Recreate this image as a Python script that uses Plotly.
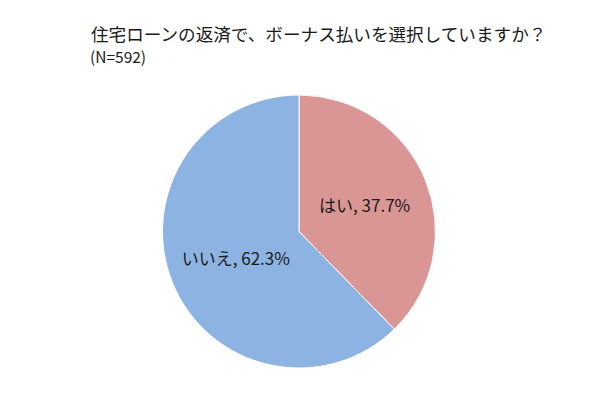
import plotly.graph_objects as go

labels = ["はい", "いいえ"]
values = [37.7, 62.3]
colors = ["#D99694", "#8DB3E2"]
title_text = "住宅ローンの返済で、ボーナス払いを選択していますか？"
subtitle_text = "(N=592)"

W, H = 600, 403
OFF = 8  # page body margin offset
FONT = "Noto Sans CJK JP"

cx, cy, r = 299 - OFF, 231.5 - OFF, 136.5

fig = go.Figure(go.Pie(
    labels=labels,
    values=values,
    sort=False,
    direction="clockwise",
    rotation=0,
    marker=dict(colors=colors, line=dict(color="white", width=1)),
    texttemplate="%{label}, %{value:.1f}%",
    textposition="inside",
    insidetextorientation="horizontal",
    textfont=dict(family=FONT, size=17, color="#1a1a1a"),
    hoverinfo="label+percent",
    domain=dict(x=[(cx - r) / W, (cx + r) / W], y=[1 - (cy + r) / H, 1 - (cy - r) / H]),
))

fig.update_layout(
    width=W, height=H,
    margin=dict(l=0, r=0, t=0, b=0),
    paper_bgcolor="white",
    plot_bgcolor="white",
    showlegend=False,
    font=dict(family=FONT),
    annotations=[
        dict(text=title_text, x=(91 - OFF - 2) / W, y=1 - (33 - OFF) / H, xref="paper", yref="paper",
             xanchor="left", yanchor="middle", showarrow=False,
             font=dict(family=FONT, size=17.6, color="#1a1a1a")),
        dict(text=subtitle_text, x=(90 - OFF - 2) / W, y=1 - (56 - OFF) / H, xref="paper", yref="paper",
             xanchor="left", yanchor="middle", showarrow=False,
             font=dict(family=FONT, size=15.5, color="#1a1a1a")),
    ],
)

fig.write_html("out.html")
